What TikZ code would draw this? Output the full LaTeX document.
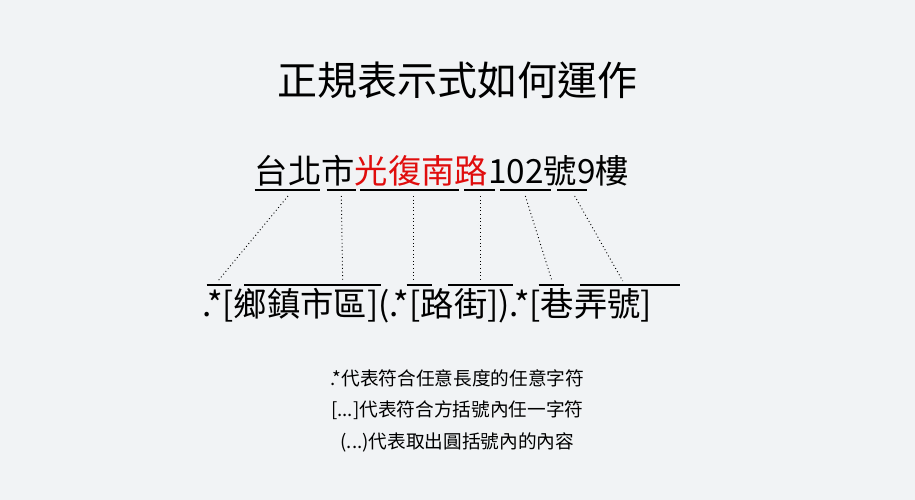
\documentclass[tikz,border=0pt]{standalone}
\usepackage{fontspec}
\setmainfont{Noto Sans CJK TC}
\begin{document}
\begin{tikzpicture}[x=1pt,y=-1pt,
  txt/.style={inner sep=0pt,font=\fontsize{25}{25}\selectfont},
  bar/.style={line width=1.6pt},
  conn/.style={dotted,line width=0.7pt}]
\fill[fill={rgb,255:red,241;green,243;blue,245}] (0,0) rectangle (686.25,375);
\node[txt,font=\fontsize{30}{30}\selectfont] (title) at (343,60) {正規表示式如何運作};
\node[txt,anchor=west] (top) at (191,128) {台北市\textcolor[rgb]{0.88,0.05,0.05}{光復南路}102號9樓};
\node[txt,anchor=west] (bot) at (152,229) {.*[鄉鎮市區](.*[路街]).*[巷弄號]};
\foreach \a/\b in {191/240,245/267,270/344,348/371,375/413,418/440}
  {\draw[bar] (\a,142.5) -- (\b,142.5);}
\foreach \a/\b in {155/173,183/286,305/324,336/385,404/423,435/510}
  {\draw[bar] (\a,213.7) -- (\b,213.7);}
\coordinate (s1) at (216,147); \coordinate (e1) at (163.5,210.7);
\coordinate (s2) at (256,147); \coordinate (e2) at (257,210.7);
\coordinate (s3) at (310,147); \coordinate (e3) at (310,210.7);
\coordinate (s4) at (360,147); \coordinate (e4) at (360,210.7);
\coordinate (s5) at (394,147); \coordinate (e5) at (414,210.7);
\coordinate (s6) at (431,147); \coordinate (e6) at (467,210.7);
\foreach \i in {1,...,6} \draw[conn] (s\i) -- (e\i);
\node[txt,font=\fontsize{14}{14}\selectfont] (c1) at (343,283.5) {.*代表符合任意長度的任意字符};
\node[txt,font=\fontsize{14}{14}\selectfont] (c2) at (343,307.5) {[...]代表符合方括號內任一字符};
\node[txt,font=\fontsize{14}{14}\selectfont] (c3) at (343,332) {(...)代表取出圓括號內的內容};
\end{tikzpicture}
\end{document}
